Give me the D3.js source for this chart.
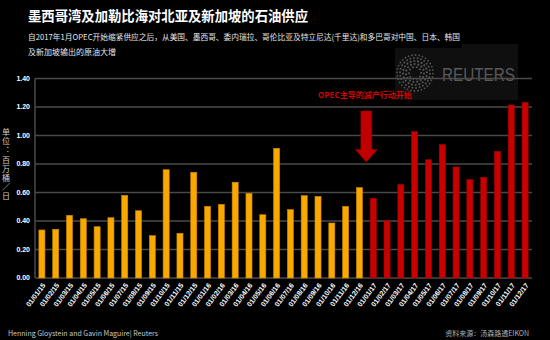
<!DOCTYPE html>
<html><head><meta charset="utf-8">
<script src="https://cdn.jsdelivr.net/npm/d3@7"></script>
<style>
html,body{margin:0;padding:0;background:#000;}
svg{display:block;}
text{font-family:"Liberation Sans","Noto Sans CJK SC",Arial,sans-serif;}
.cjk{font-family:"Noto Sans CJK SC","Liberation Sans",sans-serif;}
.vert{writing-mode:vertical-rl;text-orientation:upright;}
</style></head>
<body>
<svg id="c" width="550" height="340"></svg>
<script>
const title = "墨西哥湾及加勒比海对北亚及新加坡的石油供应";
const subtitle1 = "自2017年1月OPEC开始缩紧供应之后，从美国、墨西哥、委内瑞拉、哥伦比亚及特立尼达(千里达)和多巴哥对中国、日本、韩国";
const subtitle2 = "及新加坡输出的原油大增";
const yAxisLabel = "单位：百万桶／日";
const categories = ["01/01/15","01/02/15","01/03/15","01/04/15","01/05/15","01/06/15","01/07/15","01/08/15","01/09/15","01/10/15","01/11/15","01/12/15",
  "01/01/16","01/02/16","01/03/16","01/04/16","01/05/16","01/06/16","01/07/16","01/08/16","01/09/16","01/10/16","01/11/16","01/12/16",
  "01/01/17","01/02/17","01/03/17","01/04/17","01/05/17","01/06/17","01/07/17","01/08/17","01/09/17","01/10/17","01/11/17","01/12/17"];
const values = [0.337,0.342,0.440,0.416,0.360,0.423,0.580,0.472,0.297,0.760,0.314,0.742,
  0.503,0.517,0.672,0.594,0.444,0.910,0.480,0.578,0.573,0.386,0.503,0.634,
  0.559,0.402,0.655,1.027,0.830,0.936,0.779,0.690,0.707,0.889,1.214,1.233];
const cutStart = "01/01/17";
const yTicks = [0,0.2,0.4,0.6,0.8,1.0,1.2,1.4];
const annotation = "OPEC主导的减产行动开始";
const creditLeft = "Henning Gloystein and Gavin Maguire| Reuters";
const creditRight = "资料来源：汤森路透EIKON";

const svg = d3.select("#c");
svg.append("rect").attr("width",550).attr("height",340).attr("fill","#000");

// Reuters watermark
const wm = svg.append("g");
wm.append("path").attr("d","M395,48 H462 V44 H518 V100 H395 Z").attr("fill","#0f0f0f");
const lc = {x:415,y:73};
[[6,10,1.0],[9,15,1.1],[12,20,1.1],[15,26,1.0],[18,32,0.9]].forEach(([r,n,s])=>{
  d3.range(n).forEach(i=>{
    const a = i/n*2*Math.PI + r*0.1;
    wm.append("circle").attr("cx",lc.x+r*Math.cos(a)).attr("cy",lc.y+r*Math.sin(a)).attr("r",s).attr("fill","#555");
  });
});
wm.append("text").attr("x",442).attr("y",81).attr("font-size",19).attr("fill","#5a5a5a")
  .attr("textLength",73).attr("lengthAdjust","spacingAndGlyphs").text("REUTERS");

const m = {l:35,r:532,t:78.5,b:278};
const x = d3.scaleBand().domain(categories).range([m.l,m.r]).paddingInner(0.56).paddingOuter(0.28);
const y = d3.scaleLinear().domain([0,1.4]).range([m.b,m.t]);

// gridlines
svg.append("g").selectAll("line").data(yTicks).join("line")
  .attr("x1",m.l).attr("x2",m.r).attr("y1",d=>y(d)).attr("y2",d=>y(d))
  .attr("stroke","#4a4a4a").attr("stroke-width",1.5);
svg.append("line").attr("x1",m.l).attr("x2",m.l).attr("y1",m.t).attr("y2",m.b).attr("stroke","#4a4a4a").attr("stroke-width",1.5);

// y tick labels
svg.append("g").selectAll("text").data(yTicks).join("text")
  .attr("x",30).attr("y",d=>y(d)).attr("dy","0.35em").attr("text-anchor","end")
  .attr("font-size",7).attr("font-weight","bold").attr("fill","#fff").text(d=>d.toFixed(2));

// bars
const cutIdx = categories.indexOf(cutStart);
svg.append("g").selectAll("rect").data(values).join("rect")
  .attr("x",(d,i)=>x(categories[i])).attr("width",x.bandwidth())
  .attr("y",d=>y(d)).attr("height",d=>y(0)-y(d))
  .attr("fill",(d,i)=>i>=cutIdx?"#c80000":"#f9a800")
  .attr("stroke",(d,i)=>i>=cutIdx?"#a00000":"#c98500").attr("stroke-width",0.6);

// x labels
svg.append("g").selectAll("text").data(categories).join("text")
  .attr("transform",d=>`translate(${x(d)+x.bandwidth()/2+2},${284}) rotate(-53)`)
  .attr("text-anchor","end").attr("dy","0.35em")
  .attr("font-size",7).attr("font-weight","bold").attr("fill","#fff").text(d=>d);

// title & subtitle
svg.append("text").attr("class","cjk").attr("x",28).attr("y",21).attr("font-size",14).attr("font-weight","bold").attr("fill","#fff")
  .attr("textLength",280).attr("lengthAdjust","spacingAndGlyphs").text(title);
svg.append("text").attr("class","cjk").attr("x",28).attr("y",40).attr("font-size",8).attr("fill","#e6e6e6")
  .attr("textLength",432).attr("lengthAdjust","spacingAndGlyphs").text(subtitle1);
svg.append("text").attr("class","cjk").attr("x",28).attr("y",55).attr("font-size",8).attr("fill","#e6e6e6").text(subtitle2);

// y axis label (vertical)
svg.append("text").attr("class","cjk vert").attr("x",6).attr("y",128)
  .attr("font-size",8).attr("letter-spacing",1.2).attr("fill","#d0d0d0").text(yAxisLabel);

// annotation
const ci = categories.indexOf(cutStart);
const ax = x(categories[ci])+x.bandwidth()/2 - 0.5*x.step();
svg.append("text").attr("class","cjk").attr("x",318).attr("y",98).attr("font-size",8).attr("font-weight","bold").attr("fill","#d40000").text(annotation);
svg.append("path").attr("d",`M${ax-5.5},111 H${ax+5.5} V149.5 H${ax+11} L${ax},162 L${ax-11},149.5 H${ax-5.5} Z`)
  .attr("fill","#c00000").attr("stroke","#8a0000").attr("stroke-width",0.6);

// credits
svg.append("text").attr("class","cjk").attr("x",8).attr("y",336).attr("font-size",7).attr("fill","#c8c8c8").text(creditLeft);
svg.append("text").attr("class","cjk").attr("x",529).attr("y",336).attr("text-anchor","end").attr("font-size",7).attr("fill","#b0b0b0").text(creditRight);
</script>
</body></html>
